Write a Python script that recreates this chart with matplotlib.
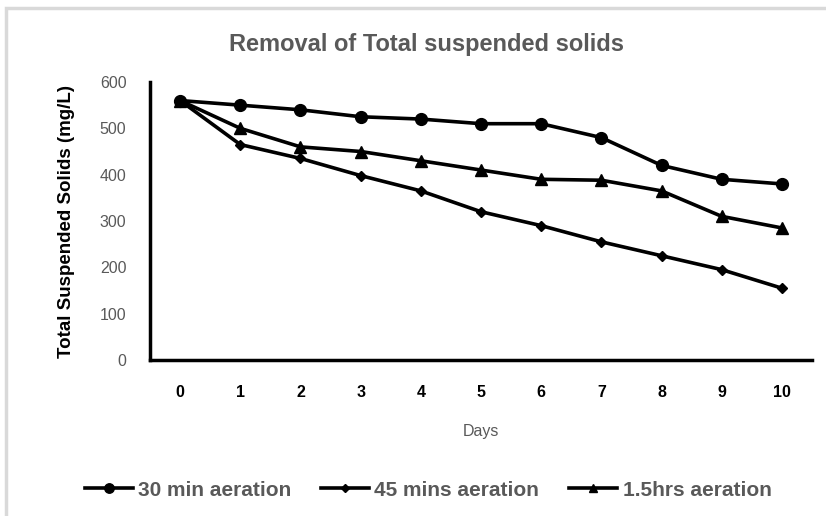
import matplotlib
matplotlib.use("Agg")
from matplotlib import pyplot as plt
from matplotlib.patches import Rectangle

plt.rcParams["font.family"] = ["Liberation Sans", "DejaVu Sans"]

days = [0, 1, 2, 3, 4, 5, 6, 7, 8, 9, 10]
tss_30min = [560, 550, 540, 525, 520, 510, 510, 480, 420, 390, 380]
tss_45min = [560, 465, 435, 398, 365, 320, 290, 255, 225, 195, 155]
tss_90min = [560, 500, 460, 450, 430, 410, 390, 388, 365, 310, 285]
labels = ["30 min aeration", "45 mins aeration", "1.5hrs aeration"]
yticks = [0, 100, 200, 300, 400, 500, 600]

fig = plt.figure(figsize=(8.26, 5.16), dpi=100)
ax = fig.add_axes([150 / 826, 1 - 360 / 516, 662 / 826, 278 / 516])

# light border around the chart area, like the exported figure
fig.patches.append(Rectangle((6 / 826, -0.05), 830 / 826, 1 - 8 / 516 + 0.05,
                             transform=fig.transFigure, fill=False,
                             edgecolor="#d9d9d9", linewidth=2.5))

ax.plot(days, tss_30min, color="black", lw=2.6, marker="o", ms=8.5, label=labels[0])
ax.plot(days, tss_45min, color="black", lw=2.6, marker="D", ms=5.5, label=labels[1])
ax.plot(days, tss_90min, color="black", lw=2.6, marker="^", ms=8, label=labels[2])

ax.set_xlim(-0.5, 10.5)
ax.set_ylim(0, 600)
ax.set_xticks(days)
ax.set_yticks(yticks)
ax.tick_params(axis="both", length=0)
ax.tick_params(axis="y", pad=17, labelsize=11.5, labelcolor="#595959")
ax.tick_params(axis="x", pad=18, labelsize=11.5, labelcolor="black")
for t in ax.get_xticklabels():
    t.set_fontweight("bold")

for side in ["top", "right"]:
    ax.spines[side].set_visible(False)
for side in ["left", "bottom"]:
    ax.spines[side].set_linewidth(2.5)
    ax.spines[side].set_color("black")

ax.set_ylabel("Total Suspended Solids (mg/L)", fontsize=13.5, fontweight="bold")
ax.yaxis.set_label_coords(-0.113, 0.5)
ax.set_xlabel("Days", fontsize=11.5, color="#595959", labelpad=17)

fig.text(427 / 826, 1 - 44 / 516, "Removal of Total suspended solids", ha="center", va="center",
         fontsize=17, fontweight="bold", color="#595959")

leg = fig.legend(loc="center", bbox_to_anchor=(428 / 826, 1 - 490 / 516), ncol=3, frameon=False,
                 prop={"size": 15, "weight": "bold"}, handlelength=2.3, columnspacing=1.45,
                 handletextpad=0.25, markerscale=0.8)
for t in leg.get_texts():
    t.set_color("#595959")

fig.savefig("out.png", dpi=100)
